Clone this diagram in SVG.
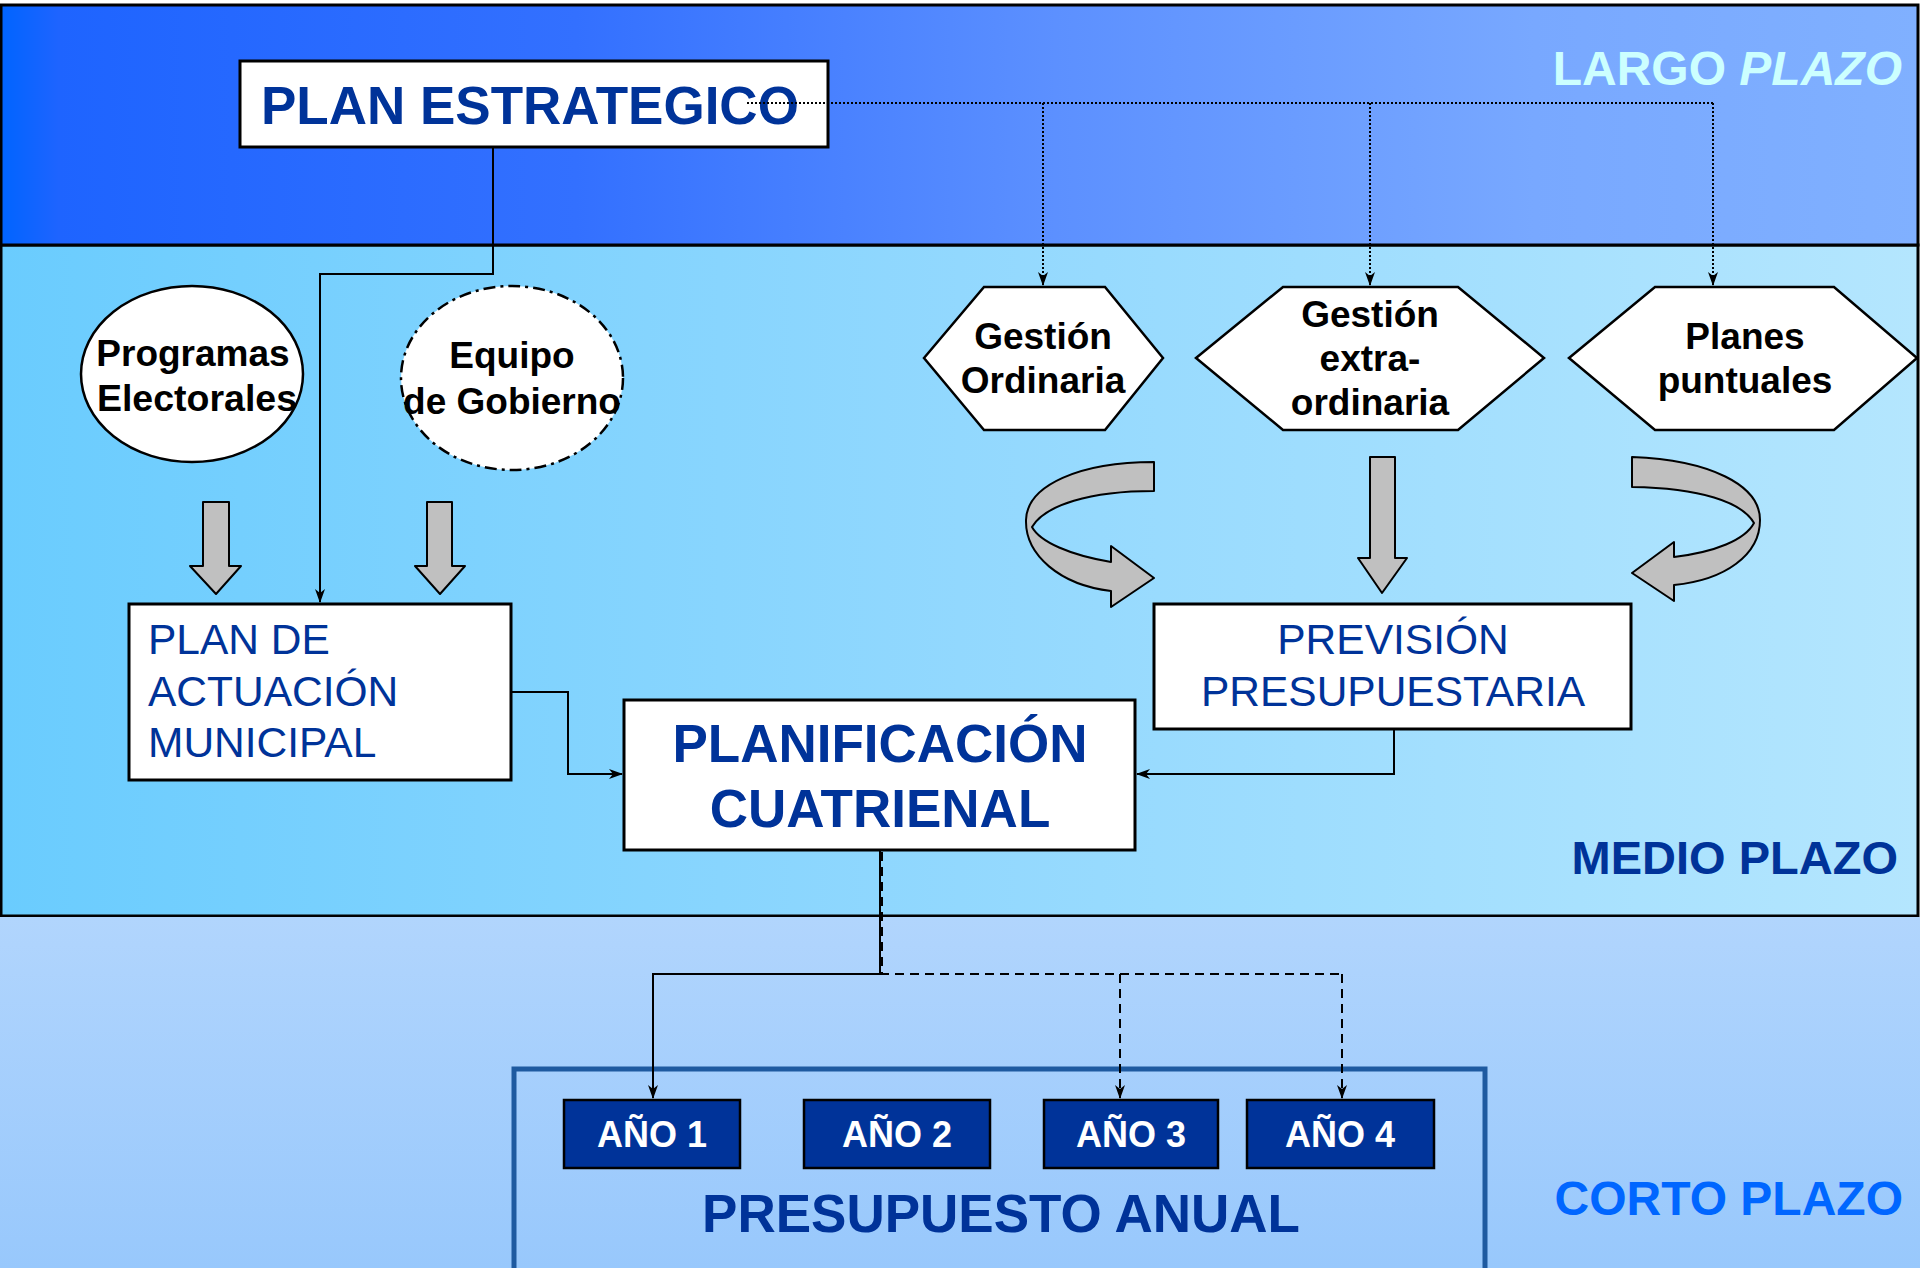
<svg xmlns="http://www.w3.org/2000/svg" width="1920" height="1268" viewBox="0 0 1920 1268">
<defs>
<linearGradient id="gTop" x1="0" y1="0" x2="1" y2="0">
<stop offset="0" stop-color="#0064ff"/>
<stop offset="0.03" stop-color="#1e64ff"/>
<stop offset="0.3" stop-color="#3370ff"/>
<stop offset="0.55" stop-color="#5c90ff"/>
<stop offset="0.8" stop-color="#78a8ff"/>
<stop offset="1" stop-color="#80b0ff"/>
</linearGradient>
<linearGradient id="gMid" x1="0" y1="0" x2="1" y2="0">
<stop offset="0" stop-color="#6accfe"/>
<stop offset="0.5" stop-color="#92d8fe"/>
<stop offset="1" stop-color="#b4e6fe"/>
</linearGradient>
<linearGradient id="gBot" x1="0" y1="0" x2="0" y2="1">
<stop offset="0" stop-color="#b1d5fd"/>
<stop offset="1" stop-color="#98c8fc"/>
</linearGradient>
<marker id="arr" viewBox="0 0 14 10" refX="13" refY="5" markerWidth="14" markerHeight="10" markerUnits="userSpaceOnUse" orient="auto">
<path d="M0,0 L14,5 L0,10 L4,5 Z" fill="#000"/>
</marker>
<style>
.band{stroke:#000;stroke-width:3}
.box{fill:#fff;stroke:#000;stroke-width:3}
.shape{fill:#fff;stroke:#000;stroke-width:2.5}
.gray{fill:#c0c0c0;stroke:#000;stroke-width:2;stroke-linejoin:round}
.ln{fill:none;stroke:#000;stroke-width:2}
.dot{fill:none;stroke:#000;stroke-width:2;stroke-dasharray:2 2}
.dash{fill:none;stroke:#000;stroke-width:2;stroke-dasharray:9 6}
.t{font-family:"Liberation Sans",Arial,sans-serif}
.bk{font-weight:bold;font-size:37px;fill:#000;text-anchor:middle}
.blue{fill:#003399}
.reg{font-size:42.5px}
.ano{fill:#003399;stroke:#000;stroke-width:2.5}
</style>
</defs>

<g id="bands">
<rect class="band" x="1" y="245" width="1917" height="671" fill="url(#gMid)"/>
<rect x="0" y="917" width="1920" height="351" fill="url(#gBot)"/>
<rect class="band" x="1" y="5" width="1917" height="240" fill="url(#gTop)"/>
<text class="t" x="1902" y="85" font-size="48" font-weight="bold" fill="#ccffff" text-anchor="end">LARGO <tspan font-style="italic">PLAZO</tspan></text>
<text class="t blue" x="1898" y="874" font-size="47" font-weight="bold" text-anchor="end">MEDIO PLAZO</text>
<text class="t" x="1903" y="1215" font-size="48" font-weight="bold" fill="#0066ff" text-anchor="end">CORTO PLAZO</text>
</g>

<g id="presupuesto-anual">
<rect x="514" y="1069" width="971" height="205" fill="none" stroke="#1e5aa0" stroke-width="5"/>
<text class="t blue" x="1001" y="1232" font-size="53" font-weight="bold" text-anchor="middle">PRESUPUESTO ANUAL</text>
</g>

<g id="plan-estrategico">
<rect class="box" x="240" y="61" width="588" height="86"/>
<text class="t blue" x="261" y="124" font-size="53" font-weight="bold">PLAN ESTRATEGICO</text>
</g>

<g id="programas-electorales">
<ellipse class="shape" cx="192" cy="374" rx="111" ry="88"/>
<text class="t bk" x="193" y="366">Programas</text>
<text class="t bk" x="197" y="411" style="font-size:37.5px">Electorales</text>
</g>

<g id="equipo-gobierno">
<ellipse cx="512" cy="378" rx="111" ry="92" fill="#fff" stroke="#000" stroke-width="2.5" stroke-dasharray="12 5 3 5"/>
<text class="t bk" x="512" y="368">Equipo</text>
<text class="t bk" x="512" y="414">de Gobierno</text>
</g>

<g id="gestion-ordinaria">
<polygon class="shape" points="924,358 984,287 1105,287 1163,358 1105,430 984,430"/>
<text class="t bk" x="1043" y="349">Gestión</text>
<text class="t bk" x="1043" y="393">Ordinaria</text>
</g>

<g id="gestion-extraordinaria">
<polygon class="shape" points="1196,358 1283,287 1458,287 1544,358 1458,430 1283,430"/>
<text class="t bk" x="1370" y="327">Gestión</text>
<text class="t bk" x="1370" y="371">extra-</text>
<text class="t bk" x="1370" y="415">ordinaria</text>
</g>

<g id="planes-puntuales">
<polygon class="shape" points="1569,358 1655,287 1834,287 1917,358 1834,430 1655,430"/>
<text class="t bk" x="1745" y="349">Planes</text>
<text class="t bk" x="1745" y="393">puntuales</text>
</g>

<g id="plan-actuacion">
<rect class="box" x="129" y="604" width="382" height="176"/>
<text class="t blue reg" x="148" y="654">PLAN DE</text>
<text class="t blue reg" x="148" y="706">ACTUACIÓN</text>
<text class="t blue reg" x="148" y="757">MUNICIPAL</text>
</g>

<g id="prevision">
<rect class="box" x="1154" y="604" width="477" height="125"/>
<text class="t blue reg" x="1393" y="654" text-anchor="middle">PREVISIÓN</text>
<text class="t blue reg" x="1393" y="706" text-anchor="middle">PRESUPUESTARIA</text>
</g>

<g id="planificacion">
<rect class="box" x="624" y="700" width="511" height="150"/>
<text class="t blue" x="880" y="762" font-size="53" font-weight="bold" text-anchor="middle">PLANIFICACIÓN</text>
<text class="t blue" x="880" y="827" font-size="53" font-weight="bold" text-anchor="middle">CUATRIENAL</text>
</g>

<g id="anos">
<g id="ano1"><rect class="ano" x="564" y="1100" width="176" height="68"/><text class="t" x="652" y="1147" font-size="36" font-weight="bold" fill="#fff" text-anchor="middle">AÑO 1</text></g>
<g id="ano2"><rect class="ano" x="804" y="1100" width="186" height="68"/><text class="t" x="897" y="1147" font-size="36" font-weight="bold" fill="#fff" text-anchor="middle">AÑO 2</text></g>
<g id="ano3"><rect class="ano" x="1044" y="1100" width="174" height="68"/><text class="t" x="1131" y="1147" font-size="36" font-weight="bold" fill="#fff" text-anchor="middle">AÑO 3</text></g>
<g id="ano4"><rect class="ano" x="1247" y="1100" width="187" height="68"/><text class="t" x="1340" y="1147" font-size="36" font-weight="bold" fill="#fff" text-anchor="middle">AÑO 4</text></g>
</g>

<g id="block-arrows">
<path class="gray" d="M203,502 L229,502 L229,566 L241,566 L216,594 L190,566 L203,566 Z"/>
<path class="gray" d="M427,502 L452,502 L452,566 L465,566 L440,594 L415,566 L427,566 Z"/>
<path class="gray" d="M1370,457 L1395,457 L1395,558 L1407,558 L1382,593 L1358,558 L1370,558 Z"/>
<path class="gray" d="M1154,462 C1080,462 1027,485 1026,520 C1025,555 1060,585 1111,591 L1111,607 L1154,578 L1111,546 L1111,562 C1070,555 1040,542 1032,527 C1045,505 1090,491 1154,491 Z"/>
<path class="gray" d="M1632,457 C1710,460 1760,485 1760,520 C1760,555 1725,580 1674,585 L1674,601 L1632,573 L1674,542 L1674,557 C1715,552 1745,540 1754,523 C1742,502 1700,488 1632,487 Z"/>
</g>

<g id="connectors">
<path class="dot" d="M747,103 H1713"/>
<path class="dot" d="M1043,103 V285" marker-end="url(#arr)"/>
<path class="dot" d="M1370,103 V285" marker-end="url(#arr)"/>
<path class="dot" d="M1713,103 V285" marker-end="url(#arr)"/>
<path class="ln" d="M493,147 V274 H320 V602" marker-end="url(#arr)"/>
<path class="ln" d="M511,692 H568 V774 H622" marker-end="url(#arr)"/>
<path class="ln" d="M1394,729 V774 H1137" marker-end="url(#arr)"/>
<path class="ln" d="M880,850 V974 H653 V1098" marker-end="url(#arr)"/>
<path class="dash" d="M882,852 V974 H1342"/>
<path class="dash" d="M1120,974 V1098" marker-end="url(#arr)"/>
<path class="dash" d="M1342,974 V1098" marker-end="url(#arr)"/>
</g>
</svg>
